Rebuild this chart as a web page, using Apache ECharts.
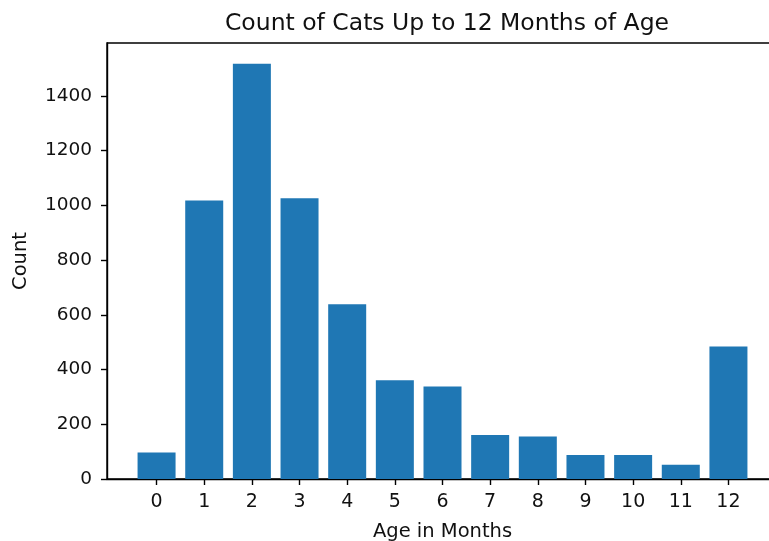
<!DOCTYPE html>
<html>
<head>
<meta charset="utf-8">
<script src="https://cdn.jsdelivr.net/npm/echarts@6/dist/echarts.min.js"></script>
<style>html,body{margin:0;padding:0;background:#fff;overflow:hidden;}#c{width:769px;height:541px;}</style>
</head>
<body>
<div id="c"></div>
<script>
const months = [0, 1, 2, 3, 4, 5, 6, 7, 8, 9, 10, 11, 12];
const counts = [97, 1017, 1517, 1026, 638, 361, 338, 161, 155, 88, 88, 52, 484];
const yTicks = [0, 200, 400, 600, 800, 1000, 1200, 1400];
const titleText = 'Count of Cats Up to 12 Months of Age';
const xName = 'Age in Months';
const yName = 'Count';

const chart = echarts.init(document.getElementById('c'), null, {renderer: 'canvas'});
const font = 'DejaVu Sans';
const yMax = Math.max(...counts) * 1.05;
chart.setOption({
  animation: false,
  backgroundColor: '#fff',
  title: {
    text: titleText,
    left: 442, top: 7, textAlign: 'center',
    textStyle: {fontFamily: font, fontSize: 23.5, fontWeight: 'normal', color: '#111'}
  },
  grid: {
    left: 107, right: -9, top: 43, bottom: 62,
    outerBoundsMode: 'none', containLabel: false,
    show: true, borderColor: '#000', borderWidth: 1.4, backgroundColor: 'transparent'
  },
  xAxis: {
    type: 'value', min: -1.04, max: 13.04,
    name: xName, nameLocation: 'middle', nameGap: 43,
    nameTextStyle: {fontFamily: font, fontSize: 19.5, color: '#111'},
    axisLine: {show: true, onZero: false, lineStyle: {color: '#000', width: 1.4}},
    axisTick: {show: true, length: 6, lineStyle: {color: '#000', width: 1.4}, customValues: months},
    axisLabel: {fontFamily: font, fontSize: 19, color: '#111', margin: 14, customValues: months,
      formatter: v => String(v)},
    splitLine: {show: false}
  },
  yAxis: {
    type: 'value', min: 0, max: yMax,
    name: yName, nameLocation: 'middle', nameGap: 76, nameRotate: 90,
    nameTextStyle: {fontFamily: font, fontSize: 19.5, color: '#111'},
    axisLine: {show: true, onZero: false, lineStyle: {color: '#000', width: 1.4}},
    axisTick: {show: true, length: 6, lineStyle: {color: '#000', width: 1.4}, customValues: yTicks},
    axisLabel: {fontFamily: font, fontSize: 18.5, color: '#111', margin: 15, customValues: yTicks,
      formatter: v => String(v)},
    splitLine: {show: false}
  },
  series: [{
    type: 'bar',
    data: months.map((m, i) => [m, counts[i]]),
    barWidth: 38,
    itemStyle: {color: '#1f77b4'}
  }]
});
</script>
</body>
</html>
